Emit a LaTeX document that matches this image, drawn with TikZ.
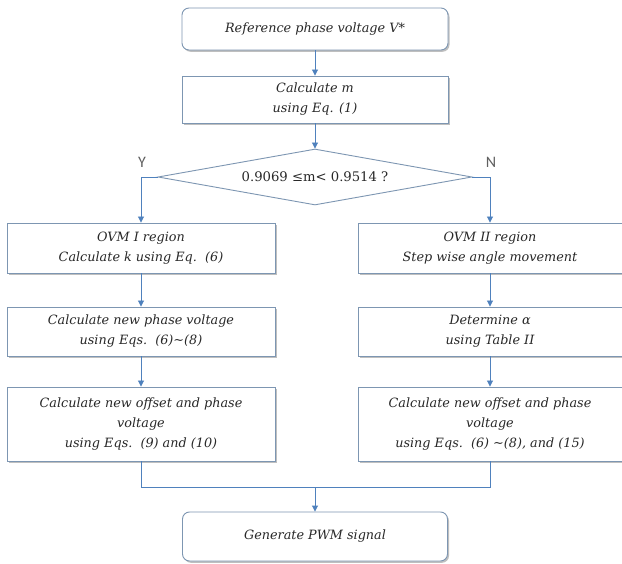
\documentclass[tikz,border=0pt]{standalone}
\usepackage{fontspec}
\setmainfont{DejaVu Serif}
\newfontfamily\lblfont{Carlito}
\usetikzlibrary{shapes.geometric,shadows,arrows.meta}
\definecolor{bordc}{RGB}{125,150,178}
\definecolor{arrc}{RGB}{79,129,189}
\definecolor{txtc}{RGB}{40,40,40}
\tikzset{
  box/.style={draw=bordc, line width=0.9pt, fill=white, align=center, text=txtc,
    font=\fontsize{12.8}{20}\selectfont\itshape, inner sep=0pt,
    drop shadow={shadow xshift=1.5pt, shadow yshift=-1.8pt, opacity=0.5, fill=gray}},
  rbox/.style={box, rounded corners=7pt},
  arr/.style={draw=arrc, line width=0.9pt, -{Triangle[length=6pt,width=6pt]}},
  ln/.style={draw=arrc, line width=0.9pt},
  yn/.style={text=gray!75!black, font=\lblfont\fontsize{16}{18}\selectfont}
}
\begin{document}
\begin{tikzpicture}[x=1pt,y=-1pt]
\useasboundingbox[fill=white] (0,0) rectangle (622,564);
\node[rbox, minimum width=266, minimum height=42] (top) at (315,29) {Reference phase voltage \textit{V*}};
\node[box, minimum width=266, minimum height=47] (calc) at (315,99.5) {Calculate \textit{m}\\using Eq. (1)};
\node[diamond, draw=bordc, line width=0.9pt, fill=white, aspect=5.6, minimum width=314, minimum height=56, inner sep=0pt,
  text=txtc, font=\fontsize{13.2}{15}\selectfont] (dia) at (315,177) {0.9069 ≤m< 0.9514 ?};
\node[box, minimum width=268, minimum height=50] (lb1) at (141,248) {OVM I region\\Calculate \textit{k} using Eq.\ \ (6)};
\node[box, minimum width=268, minimum height=49] (lb2) at (141,331.5) {Calculate new phase voltage\\using Eqs.\ \ (6)\textasciitilde(8)};
\node[box, minimum width=268, minimum height=74] (lb3) at (141,424) {Calculate new offset and phase\\voltage\\using Eqs.\ \ (9) and (10)};
\node[box, minimum width=264, minimum height=50] (rb1) at (490,248) {OVM II region\\Step wise angle movement};
\node[box, minimum width=264, minimum height=49] (rb2) at (490,331.5) {Determine \textit{α}\\using Table II};
\node[box, minimum width=264, minimum height=74] (rb3) at (490,424) {Calculate new offset and phase\\voltage\\using Eqs.\ \ (6) \textasciitilde(8), and (15)};
\node[rbox, minimum width=265, minimum height=49] (pwm) at (315,536.5) {Generate PWM signal};
\node[yn] (ylab) at (142,162) {Y};
\node[yn] (nlab) at (491,162) {N};
\coordinate (m) at (315,487);
\draw[arr] (top) -- (calc);
\draw[arr] (calc) -- (dia.north);
\draw[arr] (dia.west) -| (lb1.north);
\draw[arr] (dia.east) -| (rb1.north);
\draw[arr] (lb1) -- (lb2);
\draw[arr] (lb2) -- (lb3);
\draw[arr] (rb1) -- (rb2);
\draw[arr] (rb2) -- (rb3);
\draw[ln] (lb3.south) -- (lb3.south |- m) -- (rb3.south |- m) -- (rb3.south);
\draw[arr] (m) -- (pwm.north);
\end{tikzpicture}
\end{document}
